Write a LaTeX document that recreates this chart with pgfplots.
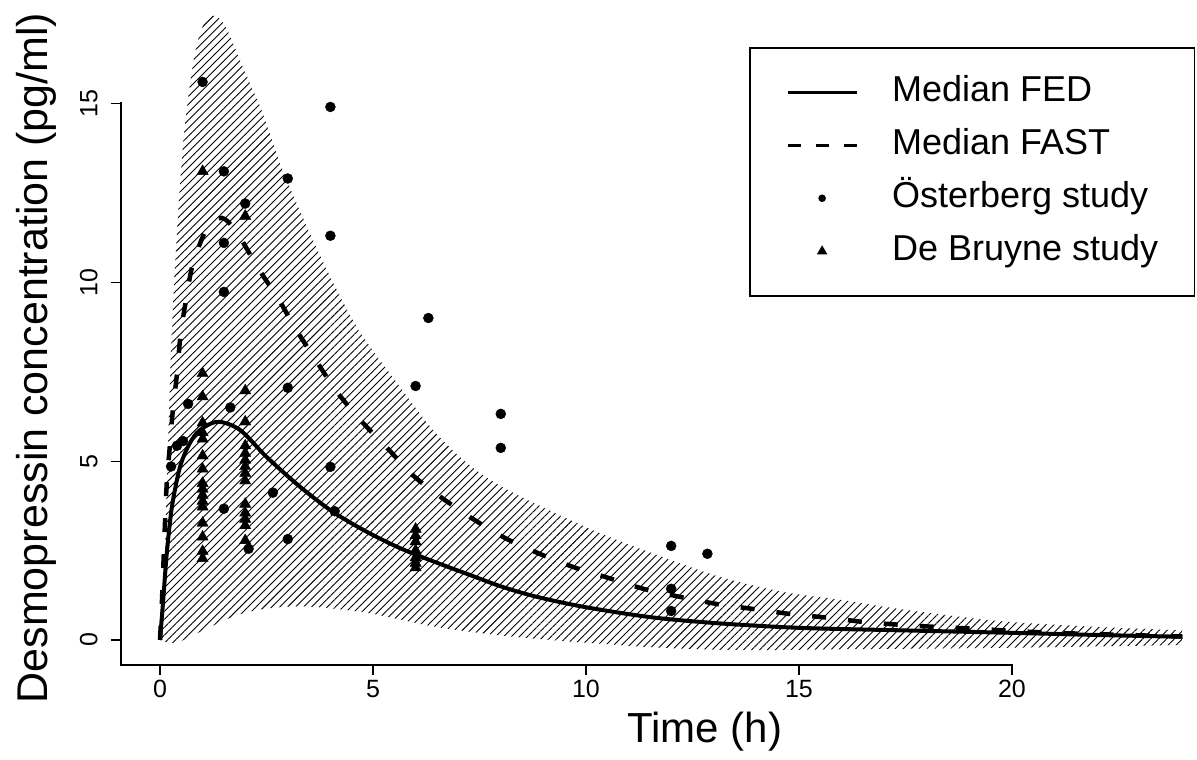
\documentclass[border=0pt]{standalone}
\usepackage{fontspec}
\setmainfont{Liberation Sans}
\usepackage{pgfplots}
\pgfplotsset{compat=1.18}
\usepgfplotslibrary{fillbetween}
\usetikzlibrary{patterns.meta}

\begin{document}
\begin{tikzpicture}
\begin{axis}[
  scale only axis, width=1061.6pt, height=665pt,
  xmin=-0.92, xmax=24, ymin=-0.699, ymax=17.89,
  clip=false,
  axis lines*=left, axis line style={draw=none},
  xtick={0,5,10,15,20}, ytick={0,5,10,15},
  tick align=outside, major tick length=10pt,
  tick style={line width=1.2pt, black},
  /pgf/number format/assume math mode=true,
  tick label style={font=\fontsize{25}{29}\selectfont},
  xticklabel style={inner ysep=5pt},
  yticklabel={\pgfmathprintnumber{\tick}\rule[-10pt]{0pt}{10pt}},
  yticklabel style={rotate=90, anchor=south},
  xlabel={Time (h)}, ylabel={Desmopressin concentration (pg/ml)},
  xlabel style={font=\fontsize{42}{50}\selectfont, at={(axis description cs:0.55,-0.1173)}, anchor=base},
  ylabel style={font=\fontsize{43}{50}\selectfont, at={(axis description cs:-0.0695,0.4617)}, anchor=base},
  legend style={at={(1.0119,0.9293)}, anchor=north east, draw=black, line width=1.5pt,
    font=\fontsize{36}{43}\selectfont, inner xsep=36pt, inner ysep=27pt, row sep=18pt,
    nodes={inner sep=0pt, text height=27pt, text depth=8pt},
    /tikz/every odd column/.append style={column sep=34pt}},
  legend cell align=left,
]
% band
\addplot[name path=up, draw=none, smooth, forget plot] coordinates {
(0.02,0) (0.1,1.5) (0.15,4.0) (0.2,6.0) (0.25,7.8) (0.3,9.2) (0.35,10.4) (0.42,11.8) (0.48,12.9) (0.56,14.1) (0.7,15.5) (0.82,16.4) (0.95,17.0) (1.1,17.35) (1.29,17.45) (1.45,17.3) (1.6,17.0) (1.95,16.0) (2.42,14.7) (2.86,13.2) (3.45,11.55) (4.06,10.0) (4.7,8.6) (5.63,7.08) (6.41,5.87) (7.2,4.95) (8.0,4.3) (9.15,3.62) (10.3,3.0) (11.5,2.45) (13.1,1.78) (14.6,1.35) (16.1,1.1) (17.4,0.86) (19.7,0.53) (22.1,0.36) (24,0.27)
};
\addplot[name path=lo, draw=none, smooth, forget plot] coordinates {
(0.02,0) (0.2,-0.08) (0.45,-0.05) (0.75,0.12) (1.17,0.36) (1.5,0.55) (1.95,0.75) (2.5,0.88) (3.2,0.94) (3.9,0.9) (4.86,0.76) (5.6,0.58) (6.5,0.36) (7.9,0.14) (9.15,0.0) (10.3,-0.1) (11.5,-0.2) (13.0,-0.27) (14.5,-0.28) (16,-0.26) (19.7,-0.22) (24,-0.14)
};
\addplot[pattern={Lines[angle=45,distance=5.6pt,line width=0.9pt]}, pattern color=black, draw=none, forget plot] fill between[of=up and lo];

% Median FED
\addplot[black, line width=4pt, smooth,
  legend image code/.code={\draw[black, line width=3pt] (0pt,0pt) -- (69pt,0pt);}] coordinates {
(0,0) (0.07,1.03) (0.16,2.43) (0.28,3.72) (0.47,4.84) (0.7,5.5) (0.94,5.87) (1.36,6.1) (1.88,5.87) (2.5,5.12) (3.29,4.28) (4.06,3.58) (4.86,3.02) (5.63,2.57) (6.41,2.2) (7.2,1.85) (8.0,1.5) (8.8,1.22) (9.93,0.93) (11.5,0.64) (13.07,0.47) (15,0.34) (17.4,0.27) (20,0.2) (22,0.14) (24,0.09)
};
\addlegendentry{Median FED}

% Median FAST
\addplot[black, line width=4.5pt, dash pattern=on 14pt off 22pt, smooth,
  legend image code/.code={\draw[black, line width=3pt, dash pattern=on 13pt off 15pt] (0pt,0pt) -- (69pt,0pt);}] coordinates {
(0,0) (0.05,1.2) (0.12,3.36) (0.16,4.4) (0.23,5.4) (0.3,6.4) (0.4,7.45) (0.48,8.5) (0.61,9.5) (0.77,10.5) (1.1,11.5) (1.45,11.8) (1.8,11.4) (2.3,10.4) (2.77,9.55) (3.2,8.67) (3.68,7.78) (4.15,6.94) (4.74,6.1) (5.33,5.37) (5.94,4.6) (6.62,3.97) (7.35,3.38) (8.1,2.85) (8.87,2.43) (9.7,2.04) (10.54,1.73) (11.38,1.42) (12.23,1.2) (13.1,1.0) (13.97,0.86) (14.84,0.72) (15.7,0.62) (16.55,0.5) (17.44,0.42) (18.3,0.36) (19.2,0.31) (20.07,0.25) (20.96,0.2) (21.83,0.17) (22.72,0.14) (23.6,0.11) (24,0.1)
};
\addlegendentry{Median FAST}

% Osterberg
\addplot[only marks, mark=*, mark size=5pt, black,
  legend image code/.code={\draw[black] plot[mark=*, mark size=3pt] coordinates {(34.5pt,0pt)};}] coordinates {
(0.26,4.85) (0.4,5.43) (0.54,5.56) (0.66,6.6) (1.0,15.6) (1.5,13.1) (1.5,11.1) (1.5,9.73) (1.5,3.67) (1.65,6.5) (2.0,12.2) (2.08,2.55) (2.65,4.12) (3.0,12.9) (3.0,7.05) (3.0,2.82) (4.0,14.9) (4.0,11.3) (4.0,4.84) (4.1,3.6) (6.0,7.1) (6.3,9.0) (8.0,6.32) (8.0,5.37) (12.0,2.63) (12.85,2.41) (12.0,1.43) (12.0,0.81)
};
\addlegendentry{Österberg study}

% De Bruyne
\addplot[only marks, mark=triangle*, mark size=6.5pt, black,
  legend image code/.code={\draw[black] plot[mark=triangle*, mark size=4.5pt] coordinates {(34.5pt,0pt)};}] coordinates {
(1,13.1) (1,7.45) (1,6.8) (1,6.07) (1,5.8) (1,5.62) (1,5.15) (1,4.78) (1,4.38) (1,4.22) (1,4.05) (1,3.88) (1,3.72) (1,3.27) (1,2.88) (1,2.48) (1,2.28)
(2,11.85) (2,6.97) (2,6.1) (2,5.43) (2,5.22) (2,5.03) (2,4.85) (2,4.66) (2,4.45) (2,3.8) (2,3.55) (2,3.38) (2,3.2) (2,2.78)
(6,3.1) (6,2.92) (6,2.75) (6,2.5) (6,2.3) (6,2.15) (6,2.02)
};
\addlegendentry{De Bruyne study}

% axis lines (R style)
\draw[line width=2.5pt, line cap=rect] (axis cs:-0.92,-0.699) -- (axis cs:20,-0.699);
\draw[line width=2.5pt, line cap=rect] (axis cs:-0.92,-0.699) -- (axis cs:-0.92,15);
\end{axis}
\pgfresetboundingbox
\path[use as bounding box] (-120.8pt,-95pt) rectangle (1076.2pt,665pt);
\end{tikzpicture}
\end{document}
